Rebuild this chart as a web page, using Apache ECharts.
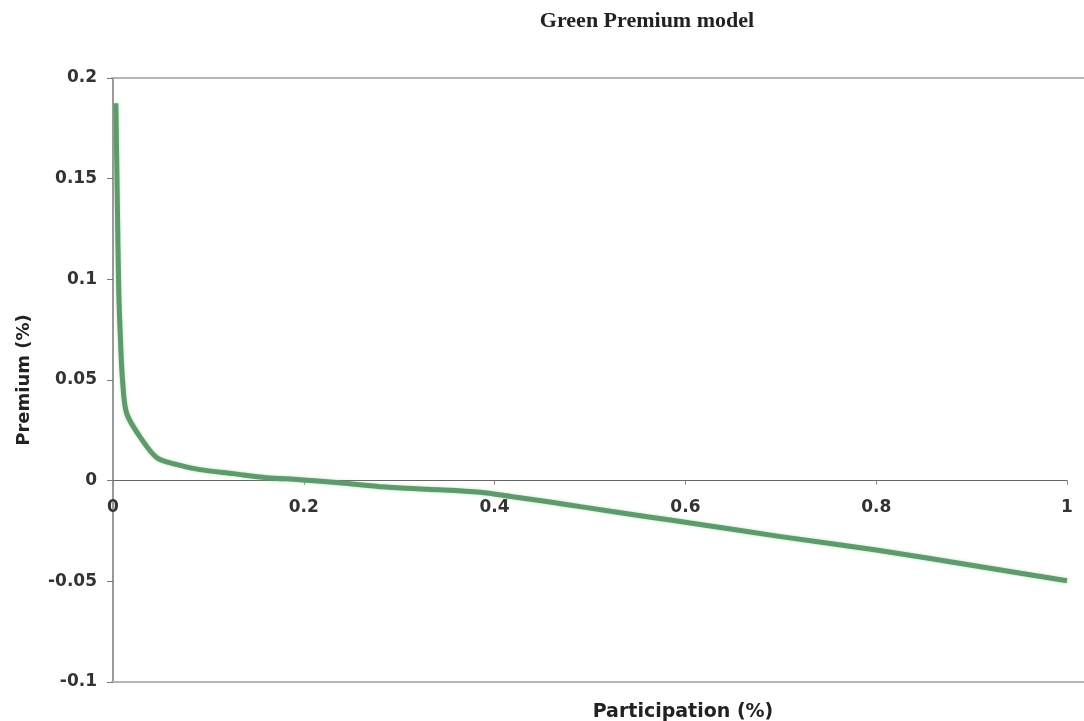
<!DOCTYPE html>
<html>
<head>
<meta charset="utf-8">
<script src="https://cdn.jsdelivr.net/npm/echarts@6/dist/echarts.min.js"></script>
<style>html,body{margin:0;padding:0;background:#fff}#c{width:1084px;height:721px}</style>
</head>
<body>
<div id="c"></div>
<script>
var participation = [0.003, 0.0045, 0.006, 0.008, 0.010, 0.0144, 0.031, 0.046, 0.063, 0.091, 0.126, 0.161, 0.196, 0.24, 0.28, 0.33, 0.385, 0.419, 0.46, 0.49, 0.56, 0.612, 0.7, 0.8, 0.9, 1.0];
var premium =       [0.1875, 0.14, 0.095, 0.068, 0.05, 0.0333, 0.0199, 0.0114, 0.0085, 0.0055, 0.0035, 0.0015, 0.0005, -0.0012, -0.003, -0.0043, -0.0058, -0.008, -0.0107, -0.0129, -0.0179, -0.0215, -0.0278, -0.0344, -0.0420, -0.0497];
var xTicks = [0, 0.2, 0.4, 0.6, 0.8, 1];
var yTicks = [-0.1, -0.05, 0, 0.05, 0.1, 0.15, 0.2];

var seriesData = participation.map(function (x, i) { return [x, premium[i]]; });
var tickFont = {fontFamily: 'DejaVu Sans', fontWeight: 'bold', fontSize: 17, color: '#333'};

var chart = echarts.init(document.getElementById('c'));
chart.setOption({
  animation: false,
  title: {
    text: 'Green Premium model',
    left: 642, top: 5, textAlign: 'center',
    textStyle: {fontFamily: 'Liberation Serif', fontWeight: 'bold', fontSize: 22, color: '#222'}
  },
  grid: [
    {left: 113, right: 17, top: 78, bottom: 39, outerBoundsMode: 'none', containLabel: false},
    {left: 112, right: 0, top: 78, bottom: 39, outerBoundsMode: 'none', containLabel: false},
    {left: 113, right: 17, top: 78, bottom: 240.5, outerBoundsMode: 'none', containLabel: false}
  ],
  xAxis: [
    {
      type: 'value', gridIndex: 0, min: 0, max: 1, interval: 0.2,
      axisLine: {show: true, onZero: true, lineStyle: {color: '#666', width: 1.2}},
      axisTick: {show: true, length: 4, lineStyle: {color: '#888'}},
      axisLabel: {show: false},
      splitLine: {show: false}
    },
    {
      type: 'value', gridIndex: 1, position: 'top', min: 0, max: 1,
      axisLine: {show: true, onZero: false, lineStyle: {color: '#b5b5b5', width: 2}},
      axisTick: {show: false}, axisLabel: {show: false}, splitLine: {show: false}
    },
    {
      type: 'value', gridIndex: 1, position: 'bottom', min: 0, max: 1,
      axisLine: {show: true, onZero: false, lineStyle: {color: '#b5b5b5', width: 2}},
      axisTick: {show: false}, axisLabel: {show: false}, splitLine: {show: false}
    },
    {
      type: 'value', gridIndex: 2, position: 'bottom', min: 0, max: 1, interval: 0.2,
      name: 'Participation (%)', nameLocation: 'middle', nameGap: 222,
      nameTextStyle: {fontFamily: 'DejaVu Sans', fontWeight: 'bold', fontSize: 19, color: '#222', padding: [0, 0, 0, 186]},
      axisLine: {show: false, onZero: false}, axisTick: {show: false},
      axisLabel: Object.assign({margin: 19, formatter: function (v) { return xTicks.indexOf(v) >= 0 ? String(v) : ''; }}, tickFont),
      splitLine: {show: false}
    }
  ],
  yAxis: [
    {
      type: 'value', gridIndex: 0, min: -0.1, max: 0.2, interval: 0.05,
      name: 'Premium (%)', nameLocation: 'middle', nameGap: 80, nameRotate: 90,
      nameTextStyle: {fontFamily: 'DejaVu Sans', fontWeight: 'bold', fontSize: 18, color: '#222'},
      axisLine: {show: true, onZero: false, lineStyle: {color: '#777', width: 1.5}},
      axisTick: {show: true, length: 6, lineStyle: {color: '#777'}},
      axisLabel: Object.assign({margin: 16, formatter: function (v) {
        var r = Math.round(v * 100) / 100; return yTicks.indexOf(r) >= 0 ? String(r) : ''; }}, tickFont),
      splitLine: {show: false}
    },
    {type: 'value', gridIndex: 1, show: false, min: 0, max: 1},
    {type: 'value', gridIndex: 2, show: false, min: 0, max: 1}
  ],
  series: [{
    type: 'line', xAxisIndex: 0, yAxisIndex: 0,
    data: seriesData,
    smooth: 0.3,
    symbol: 'none',
    lineStyle: {color: '#5e9a6c', width: 5, shadowColor: 'rgba(120,200,130,0.55)', shadowBlur: 3}
  }]
});
</script>
</body>
</html>
